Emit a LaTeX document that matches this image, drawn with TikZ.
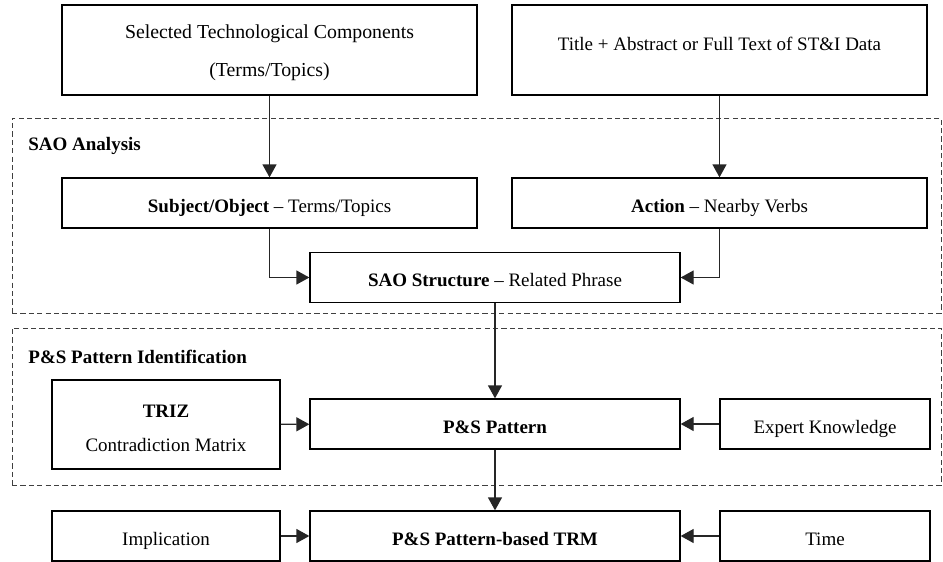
\documentclass[tikz,border=0pt]{standalone}
\usepackage{fontspec}
\setmainfont{Liberation Serif}
\usepackage{tikz}
\usetikzlibrary{arrows.meta,positioning}

\begin{document}
\begin{tikzpicture}[
  x=0.5pt, y=-0.5pt,
  box/.style={draw, line width=0.65pt, inner sep=0pt, align=center,
              font=\fontsize{9.5}{11.4}\selectfont},
  one/.style={text height=2.4ex, text depth=0.4ex},
  wide/.style={box, minimum width=207.5pt},
  mid/.style={box, one, minimum width=185pt, minimum height=25pt},
  side/.style={box, one, minimum height=25pt},
  group/.style={draw=black!75, dashed, dash pattern=on 2.6pt off 1.6pt,
                line width=0.5pt, inner sep=0pt},
  grouplabel/.style={anchor=west, inner sep=0pt,
                     font=\fontsize{9.5}{11.4}\selectfont\bfseries},
  >={Triangle[length=6.5pt,width=7pt]},
  arr/.style={->, line width=0.65pt, draw=black!85},
]
  \useasboundingbox (0,0) rectangle (943,562);

  % dashed stages
  \node[group, minimum width=464.5pt, minimum height=97.5pt] (saogrp)
    at (476.5,215.5) {};
  \node[group, minimum width=464.5pt, minimum height=78.5pt] (psgrp)
    at (476.5,406.5) {};
  \node[grouplabel] (saolbl) at (28,146) {SAO Analysis};
  \node[grouplabel] (pslbl) at (28,357) {P\&S Pattern Identification};

  % inputs
  \node[wide, minimum height=45pt, font=\fontsize{9.9}{11.4}\selectfont]
    (comp) at (269.5,50)
    {\rule{0pt}{9.5pt}Selected Technological Components\\[7.5pt](Terms/Topics)};
  \node[wide, one, minimum height=45pt] (data) at (719.5,50)
    {\raisebox{4.3pt}{Title + Abstract or Full Text of ST\&I Data}};

  % SAO analysis
  \node[wide, one, minimum height=25pt] (subj) at (269.5,203)
    {\textbf{Subject/Object} -- Terms/Topics};
  \node[wide, one, minimum height=25pt] (act) at (719.5,203)
    {\textbf{Action} -- Nearby Verbs};
  \node[mid] (sao) at (495,277.5)
    {\textbf{SAO Structure} -- Related Phrase};

  % pattern identification
  \node[box, minimum width=114pt, minimum height=44.5pt] (triz) at (166,424.5)
    {\rule{0pt}{10pt}\textbf{TRIZ}\\[6pt]Contradiction Matrix};
  \node[mid] (pat) at (495,424) {\textbf{P\&S Pattern}};
  \node[side, minimum width=105pt] (expert) at (825,424) {Expert Knowledge};

  % roadmap
  \node[side, minimum width=114pt] (impl) at (166,536) {Implication};
  \node[mid] (trm) at (495,536) {\textbf{P\&S Pattern-based TRM}};
  \node[side, minimum width=105pt] (time) at (825,536) {Time};

  \draw[arr] (comp) -- (subj);
  \draw[arr] (data) -- (act);
  \draw[arr] (subj.south) |- (sao.west);
  \draw[arr] (act.south) |- (sao.east);
  \draw[arr] (sao) -- (pat);
  \draw[arr] (triz) -- (pat);
  \draw[arr] (expert) -- (pat);
  \draw[arr] (pat) -- (trm);
  \draw[arr] (impl) -- (trm);
  \draw[arr] (time) -- (trm);
\end{tikzpicture}
\end{document}
